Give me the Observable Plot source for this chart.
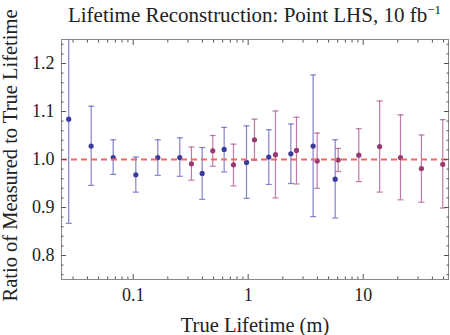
<!DOCTYPE html>
<html>
<head>
<meta charset="utf-8">
<script src="https://cdn.jsdelivr.net/npm/d3@7"></script>
<script src="https://cdn.jsdelivr.net/npm/@observablehq/plot@0.6"></script>
<style>
  body { margin: 0; background: #fff; }
  #wrap { position: relative; width: 450px; height: 335px; }
  #title { position: absolute; left: 61px; right: 2px; top: 3px; text-align: center;
    font-family: "Liberation Serif", serif; font-size: 21px; line-height: 24px; color: #222; white-space: nowrap; }
  #title sup { font-size: 13px; vertical-align: 8px; line-height: 0; }
  #chart svg { display: block; }
</style>
</head>
<body>
<div id="wrap">
<div id="chart"></div>
<div id="title">Lifetime Reconstruction: Point LHS, 10 fb<sup>−1</sup></div>
</div>
<script>
// Series 1 (blue)
const blueX  = [0.0275, 0.0431, 0.0670, 0.1054, 0.1637, 0.2542, 0.398, 0.618, 0.967, 1.51, 2.35, 3.67, 5.71];
const blueY  = [1.084, 1.028, 1.004, 0.968, 1.004, 1.004, 0.971, 1.021, 0.994, 1.005, 1.012, 1.028, 0.959];
const blueLo = [0.867, 0.946, 0.969, 0.932, 0.967, 0.965, 0.917, 0.974, 0.919, 0.948, 0.950, 0.881, 0.878];
const blueHi = [1.302, 1.111, 1.041, 1.005, 1.041, 1.045, 1.025, 1.067, 1.070, 1.062, 1.074, 1.176, 1.041];
// Series 2 (purple)
const purpleX  = [0.321, 0.492, 0.745, 1.134, 1.727, 2.63, 3.98, 6.06, 9.16, 13.9, 21.1, 32.1, 49.2];
const purpleY  = [0.991, 1.018, 0.989, 1.041, 1.010, 1.019, 0.997, 0.999, 1.009, 1.027, 1.004, 0.981, 0.990];
const purpleLo = [0.957, 0.986, 0.945, 0.998, 0.920, 0.949, 0.940, 0.975, 0.954, 0.932, 0.916, 0.911, 0.899];
const purpleHi = [1.026, 1.050, 1.032, 1.084, 1.101, 1.088, 1.055, 1.023, 1.064, 1.122, 1.093, 1.051, 1.083];
// Reference line
const refY = [1.0];
// Ticks
const xMajor = [0.1, 1, 10];
const xMinor = [0.03,0.04,0.05,0.06,0.07,0.08,0.09,0.2,0.3,0.4,0.5,0.6,0.7,0.8,0.9,2,3,4,5,6,7,8,9,20,30,40,50];
const yMajor = [0.8, 0.9, 1.0, 1.1, 1.2];
const yMinor = [0.76,0.78,0.82,0.84,0.86,0.88,0.92,0.94,0.96,0.98,1.02,1.04,1.06,1.08,1.12,1.14,1.16,1.18,1.22,1.24];
const xLabel = "True Lifetime (m)";
const yLabel = "Ratio of Measured to True Lifetime";

const blueCol = "#3b3b9c", blueBar = "#5a5ab8";
const purpleCol = "#983a72", purpleBar = "#a8508a";

const blue = blueX.map((x, i) => ({x, y: blueY[i], lo: blueLo[i], hi: blueHi[i]}));
const purple = purpleX.map((x, i) => ({x, y: purpleY[i], lo: purpleLo[i], hi: purpleHi[i]}));

const capSymbol = {draw(ctx, size) { const w = Math.sqrt(size / Math.PI); ctx.moveTo(-w, 0); ctx.lineTo(w, 0); }};

function series(data, col, bar) {
  return [
    Plot.ruleX(data, {x: "x", y1: "lo", y2: "hi", stroke: bar, strokeOpacity: 0.75, strokeWidth: 1.2, clip: true}),
    Plot.dot(data, {x: "x", y: "lo", symbol: capSymbol, r: 3, stroke: bar, strokeOpacity: 0.75, strokeWidth: 1.2, fill: "none", clip: true}),
    Plot.dot(data, {x: "x", y: "hi", symbol: capSymbol, r: 3, stroke: bar, strokeOpacity: 0.75, strokeWidth: 1.2, fill: "none", clip: true}),
    Plot.dot(data, {x: "x", y: "y", r: 2.6, fill: col, stroke: "none"})
  ];
}

const tickCol = "#555";
const chart = Plot.plot({
  width: 450,
  height: 335,
  marginLeft: 61,
  marginRight: 2,
  marginTop: 39,
  marginBottom: 56,
  style: {fontFamily: "'Liberation Serif', serif", fontSize: "18px", color: "#222", background: "transparent"},
  x: {type: "log", domain: [0.0238, 55.2]},
  y: {domain: [0.75, 1.25]},
  marks: [
    Plot.frame({stroke: "#888"}),
    ...series(blue, blueCol, blueBar),
    ...series(purple, purpleCol, purpleBar),
    Plot.ruleY(refY, {y: d => d, stroke: "#f26666", strokeWidth: 2, strokeDasharray: "6,4"}),
    // tick labels
    Plot.axisX({ticks: xMajor, tickSize: 0, tickPadding: 9, tickFormat: d => String(d), label: null, fontSize: 18}),
    Plot.axisY({ticks: yMajor, tickSize: 0, tickPadding: 7, tickFormat: d => d.toFixed(1), label: null, fontSize: 18}),
    // inward tick marks on all sides
    Plot.axisX({anchor: "bottom", ticks: xMajor, tickSize: -5, tickFormat: () => "", label: null, stroke: tickCol}),
    Plot.axisX({anchor: "bottom", ticks: xMinor, tickSize: -2.5, tickFormat: () => "", label: null, stroke: tickCol}),
    Plot.axisX({anchor: "top", ticks: xMajor, tickSize: -5, tickFormat: () => "", label: null, stroke: tickCol}),
    Plot.axisX({anchor: "top", ticks: xMinor, tickSize: -2.5, tickFormat: () => "", label: null, stroke: tickCol}),
    Plot.axisY({anchor: "left", ticks: yMajor, tickSize: -5, tickFormat: () => "", label: null, stroke: tickCol}),
    Plot.axisY({anchor: "left", ticks: yMinor, tickSize: -2.5, tickFormat: () => "", label: null, stroke: tickCol}),
    Plot.axisY({anchor: "right", ticks: yMajor, tickSize: -5, tickFormat: () => "", label: null, stroke: tickCol}),
    Plot.axisY({anchor: "right", ticks: yMinor, tickSize: -2.5, tickFormat: () => "", label: null, stroke: tickCol}),
    // axis titles
    Plot.text([xLabel], {text: d => d, frameAnchor: "bottom", lineAnchor: "bottom", dy: 52, fontSize: 20.5, fill: "#222"}),
    Plot.text([yLabel], {text: d => d, frameAnchor: "left", textAnchor: "middle", rotate: -90, lineAnchor: "middle", dx: -51, dy: -4, fontSize: 20.5, fill: "#222"})
  ]
});
document.getElementById("chart").appendChild(chart);
</script>
</body>
</html>
